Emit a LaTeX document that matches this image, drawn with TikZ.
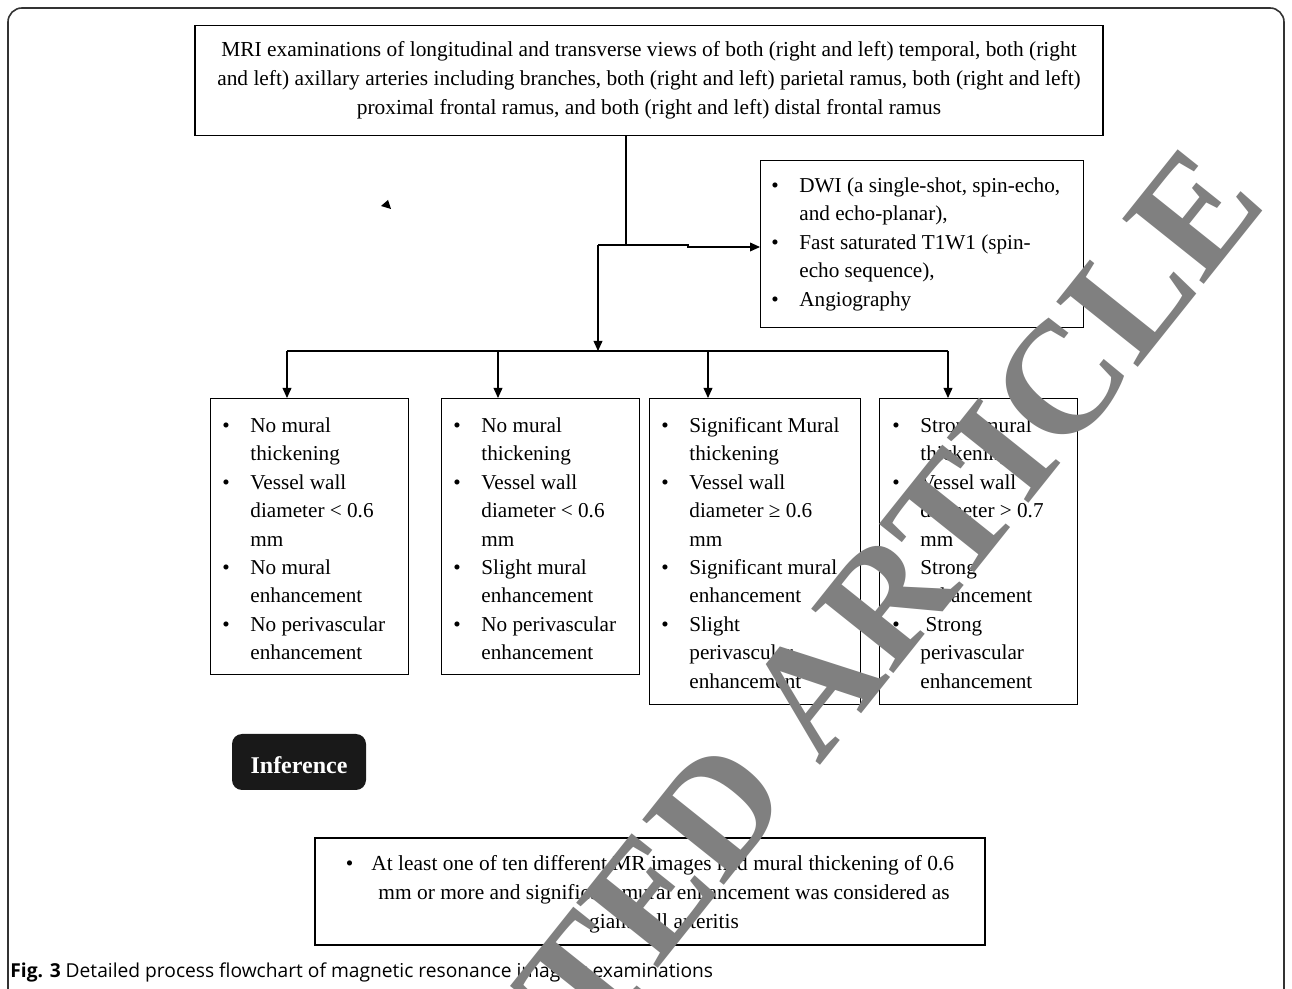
\documentclass[tikz,border=0pt]{standalone}
\usepackage{fontspec}
\setmainfont{Liberation Serif}
\newfontfamily\capfont{Open Sans}
\usetikzlibrary{arrows.meta}
\begin{document}
\begin{tikzpicture}[x=0.5pt,y=-0.5pt,
  box/.style={draw=black, line width=0.55pt, rectangle, inner sep=0pt},
  conn/.style={draw=black, line width=0.55pt},
  arr/.style={conn, -{Triangle[length=5pt,width=4.4pt]}},
  body/.style={font=\fontsize{10.6}{14.2}\selectfont},
  txt/.style={body, inner sep=0pt, anchor=base west},
]
\useasboundingbox (0,0) rectangle (1292,989);
\fill[white] (0,0) rectangle (1292,989);
% outer frame
\draw[line width=0.8pt, black!80, rounded corners=7pt] (8,8) rectangle (1284,1004);

% top box
\node[box, font=\fontsize{10.7}{14.5}\selectfont, minimum width=454pt, minimum height=55pt, align=center] (top) at (649,80.5)
 {MRI examinations of longitudinal and transverse views of both (right and left) temporal, both (right\\
  and left) axillary arteries including branches, both (right and left) parietal ramus, both (right and left)\\
  proximal frontal ramus, and both (right and left) distal frontal ramus};

% sequences box
\node[box, minimum width=161.5pt, minimum height=83.5pt, anchor=north west] (dwi) at (760,160) {};
\node[txt] (dwit) at (771,192.5) {\begin{tabular}[t]{@{}p{14pt}@{}l@{}}
\textbullet & DWI (a single-shot, spin-echo,\\
 & and echo-planar),\\
\textbullet & Fast saturated T1W1 (spin-\\
 & echo sequence),\\
\textbullet & Angiography
\end{tabular}};

% junctions
\coordinate (j1) at (626,245);
\coordinate (j0) at (598,245);
\coordinate (j2) at (688,245);
\coordinate (j3) at (688,247);
\coordinate (busL) at (287,351);
\coordinate (d2) at (498,351);
\coordinate (d3) at (708,351);
\coordinate (busR) at (948,351);

% criteria boxes
\node[box, minimum width=99pt, minimum height=138pt, anchor=north west] (b1) at (210,398) {};
\node[box, minimum width=99pt, minimum height=138pt, anchor=north west] (b2) at (441,398) {};
\node[box, minimum width=105.5pt, minimum height=153pt, anchor=north west] (b3) at (649,398) {};
\node[box, minimum width=99pt, minimum height=153pt, anchor=north west] (b4) at (879,398) {};

\node[txt] (t1) at (222,432.5) {\begin{tabular}[t]{@{}p{14pt}@{}l@{}}
\textbullet & No mural\\
 & thickening\\
\textbullet & Vessel wall\\
 & diameter < 0.6\\
 & mm\\
\textbullet & No mural\\
 & enhancement\\
\textbullet & No perivascular\\
 & enhancement
\end{tabular}};
\node[txt] (t2) at (453,432.5) {\begin{tabular}[t]{@{}p{14pt}@{}l@{}}
\textbullet & No mural\\
 & thickening\\
\textbullet & Vessel wall\\
 & diameter < 0.6\\
 & mm\\
\textbullet & Slight mural\\
 & enhancement\\
\textbullet & No perivascular\\
 & enhancement
\end{tabular}};
\node[txt] (t3) at (661,432.5) {\begin{tabular}[t]{@{}p{14pt}@{}l@{}}
\textbullet & Significant Mural\\
 & thickening\\
\textbullet & Vessel wall\\
 & diameter ≥ 0.6\\
 & mm\\
\textbullet & Significant mural\\
 & enhancement\\
\textbullet & Slight\\
 & perivascular\\
 & enhancement
\end{tabular}};
\node[txt] (t4) at (892,432.5) {\begin{tabular}[t]{@{}p{14pt}@{}l@{}}
\textbullet & Strong mural\\
 & thickening\\
\textbullet & Vessel wall\\
 & diameter > 0.7\\
 & mm\\
\textbullet & Strong\\
 & enhancement\\
\textbullet & \ Strong\\
 & perivascular\\
 & enhancement
\end{tabular}};

% connectors
\draw[conn] (top.south -| j1) -- (j1);
\draw[arr] (j0) -- (j2) -- (j3) -- (j3 -| dwi.west);
\draw[arr] (j0) -- (j0 |- busL);
\draw[conn] (busL) -- (busR);
\draw[arr] (busL) -- (busL |- b1.north);
\draw[arr] (d2) -- (d2 |- b2.north);
\draw[arr] (d3) -- (d3 |- b3.north);
\draw[arr] (busR) -- (busR |- b4.north);

% stray arrowhead
\fill (381,206) -- (388,200) -- (391,209) -- cycle;

% inference
\node[fill=black!90, rounded corners=5pt, minimum width=67pt, minimum height=28pt,
      text height=11.2pt, text depth=0pt,
      text=white, font=\fontsize{12}{14}\selectfont\bfseries] (inf) at (299,762) {Inference};

\node[box, minimum width=335pt, minimum height=53.5pt] (res) at (650,891.5) {};
\node[font=\fontsize{10.7}{14.4}\selectfont, align=center, inner sep=0pt] (restxt) at (650,894)
 {\makebox[12.8pt][l]{\textbullet}At least one of ten different MR images had mural thickening of 0.6\\
  \hspace*{14pt}mm or more and significant mural enhancement was considered as\\
  \hspace*{14pt}giant cell arteritis};

% caption
\node[anchor=base west, inner sep=0pt, font=\capfont\fontsize{9.6}{11}\selectfont] (cap) at (10,977)
 {\textbf{Fig. 3} Detailed process flowchart of magnetic resonance imaging examinations};

% watermark
\node[rotate=51.4, text=black!50, font=\fontsize{79.7}{84}\selectfont\bfseries, inner sep=0pt] (wm) at (679,859) {RETRACTED ARTICLE};
\end{tikzpicture}
\end{document}
